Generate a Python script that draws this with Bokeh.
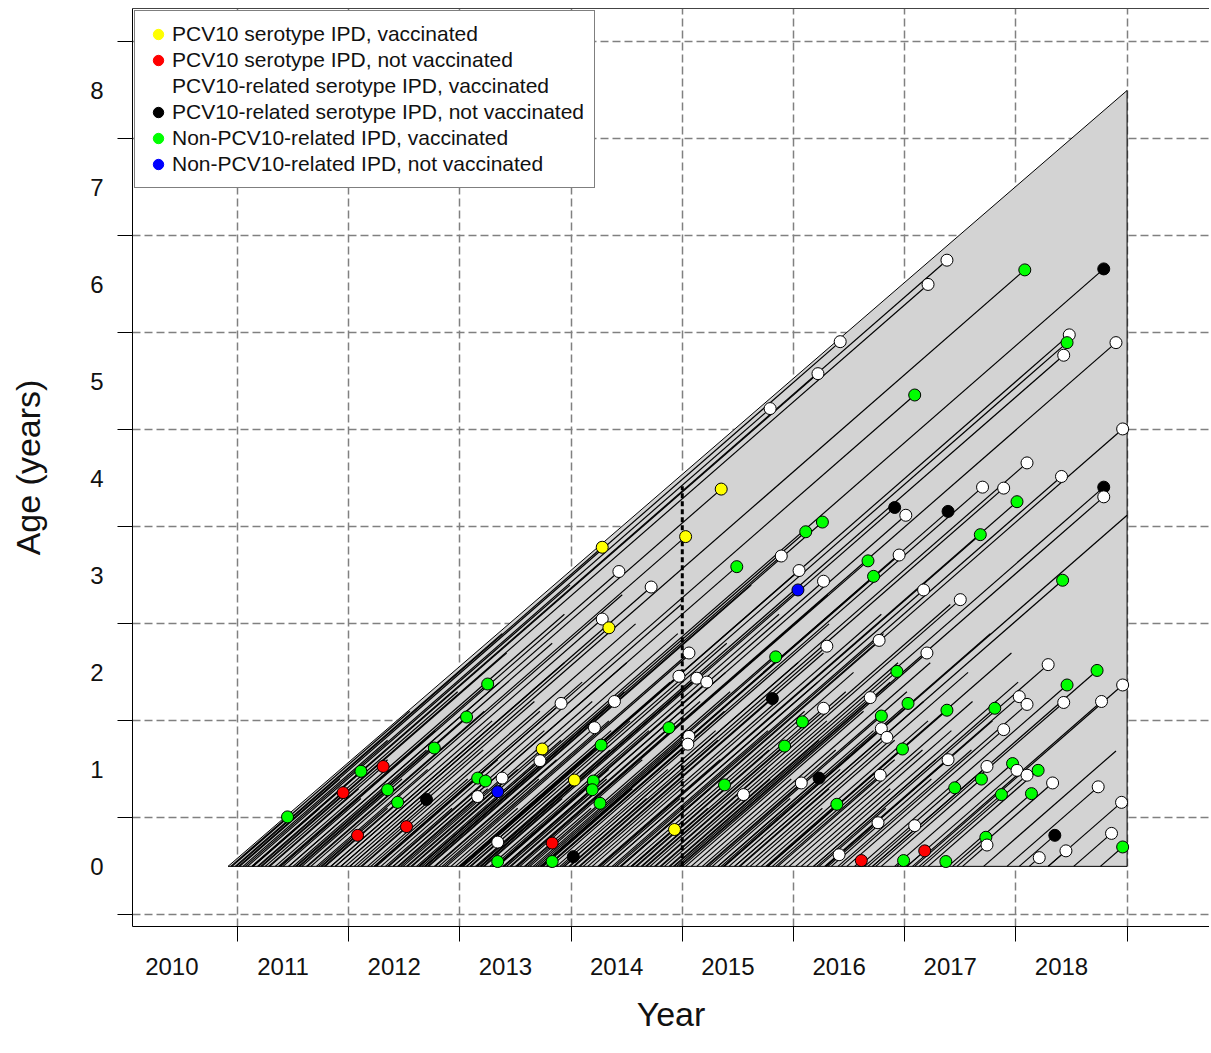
from bokeh.plotting import figure
from bokeh.models import (Range1d, FixedTicker, CustomJSTickFormatter, Legend,
                          LegendItem, ColumnDataSource, LinearAxis)
from bokeh.embed import file_html
from bokeh.resources import INLINE

FONT = "Liberation Sans"

# ---------------- data ----------------
# IPD cases: calendar time of the event (years) and age at event (years)
event_year = [
    2011.45, 2011.95, 2012.11, 2012.31, 2012.35, 2012.44, 2012.70, 2012.08, 2012.52, 2012.77,
    2013.06, 2013.16, 2013.23, 2013.16, 2013.34, 2013.34, 2013.34, 2013.25, 2013.38, 2013.91,
    2014.39, 2014.21, 2014.27, 2014.88, 2013.74, 2013.72, 2015.06, 2015.05, 2014.03, 2014.20,
    2014.19, 2014.26, 2014.93, 2015.38, 2013.83, 2013.83, 2014.02, 2014.28, 2015.03, 2015.35,
    2014.43, 2014.72, 2014.28, 2014.34, 2015.06, 2014.97, 2015.13, 2015.22, 2015.49, 2016.42,
    2016.22, 2015.79, 2017.09, 2015.89, 2016.11, 2016.26, 2016.91, 2017.01, 2016.05, 2016.04,
    2016.27, 2016.67, 2016.72, 2016.95, 2016.30, 2016.77, 2015.84, 2015.81, 2016.69, 2016.93,
    2016.27, 2017.03, 2016.79, 2016.79, 2016.84, 2016.08, 2017.38, 2015.92, 2016.98, 2017.39,
    2015.55, 2016.07, 2016.23, 2016.78, 2017.45, 2016.39, 2016.76, 2017.09, 2016.41, 2016.61,
    2016.99, 2017.18, 2017.37, 2017.38, 2017.21, 2017.39, 2017.17, 2017.50, 2017.20, 2018.08,
    2018.79, 2018.48, 2018.46, 2018.43, 2018.90, 2018.96, 2018.10, 2018.41, 2017.70, 2017.89,
    2018.01, 2018.79, 2018.79, 2017.68, 2018.42, 2018.29, 2018.73, 2018.46, 2018.96, 2018.03,
    2018.10, 2018.43, 2018.77, 2017.81, 2017.89, 2017.74, 2017.97, 2018.01, 2018.10, 2018.20,
    2017.69, 2017.87, 2018.14, 2018.33, 2018.74, 2018.95, 2018.86, 2018.35, 2017.73, 2017.74,
    2018.45, 2018.21, 2018.96,
]
event_age = [
    0.51, 0.76, 0.98, 1.03, 0.79, 0.66, 0.69, 0.32, 0.41, 1.22,
    1.54, 0.91, 0.88, 0.72, 0.77, 0.25, 0.05, 1.88, 0.91, 1.68,
    1.70, 1.43, 1.25, 1.43, 1.21, 1.09, 1.34, 1.26, 0.89, 0.88,
    0.79, 0.65, 0.38, 0.84, 0.24, 0.05, 0.10, 3.29, 3.40, 3.89,
    3.04, 2.88, 2.55, 2.46, 2.20, 1.96, 1.94, 1.90, 3.09, 5.41,
    5.08, 4.72, 4.86, 3.20, 3.45, 3.55, 3.70, 3.62, 3.05, 2.85,
    2.94, 3.15, 2.99, 3.21, 2.27, 2.33, 2.16, 1.73, 1.74, 2.01,
    1.63, 1.68, 1.55, 1.42, 1.33, 1.49, 1.61, 1.24, 1.21, 1.10,
    0.74, 0.86, 0.91, 0.94, 0.81, 0.64, 0.45, 0.42, 0.12, 0.06,
    0.06, 0.16, 0.05, 6.25, 6.00, 3.66, 2.85, 2.75, 2.20, 6.15,
    6.16, 5.48, 5.40, 5.27, 5.40, 4.51, 4.16, 4.02, 3.91, 3.90,
    3.76, 3.91, 3.81, 3.42, 2.95, 2.08, 2.02, 1.87, 1.87, 1.75,
    1.67, 1.69, 1.70, 1.63, 1.41, 1.03, 1.06, 0.99, 0.94, 0.99,
    0.90, 0.74, 0.75, 0.86, 0.82, 0.66, 0.34, 0.32, 0.30, 0.22,
    0.16, 0.09, 0.20,
]
# Y = PCV10 vacc, R = PCV10 not vacc, W = related vacc, K = related not vacc,
# G = non-related vacc, B = non-related not vacc
event_cat = [
    "G", "R", "G", "R", "G", "G", "K", "R", "R", "G",
    "G", "G", "G", "W", "B", "W", "G", "G", "W", "W",
    "W", "W", "G", "G", "Y", "W", "W", "W", "Y", "G",
    "G", "G", "Y", "G", "R", "G", "K", "Y", "Y", "Y",
    "W", "W", "W", "Y", "W", "W", "W", "W", "G", "W",
    "W", "W", "G", "W", "G", "G", "K", "W", "W", "B",
    "W", "G", "G", "W", "W", "W", "G", "K", "W", "G",
    "W", "G", "G", "W", "W", "G", "G", "G", "G", "W",
    "W", "W", "K", "W", "G", "G", "W", "W", "W", "R",
    "G", "R", "G", "W", "W", "K", "W", "W", "W", "G",
    "K", "W", "G", "W", "W", "W", "W", "W", "W", "W",
    "G", "K", "W", "G", "G", "W", "G", "G", "W", "W",
    "W", "W", "W", "G", "W", "W", "G", "W", "W", "G",
    "G", "G", "G", "W", "W", "W", "W", "K", "G", "W",
    "W", "W", "G",
]

# follow-up lines without a case marker: birth time and age at end of line
line_birth = [
    2010.95, 2010.98, 2011.02, 2011.05, 2011.09, 2011.14, 2011.18, 2011.22, 2011.25, 2011.29,
    2011.34, 2011.38, 2011.41, 2011.46, 2011.50, 2011.53, 2011.58, 2011.62, 2011.66, 2011.71,
    2011.75, 2011.79, 2011.84, 2011.88, 2011.93, 2011.97,
    2012.01, 2012.05, 2012.08, 2012.12, 2012.17, 2012.20, 2012.24, 2012.29, 2012.33, 2012.36,
    2012.40, 2012.45, 2012.49, 2012.52, 2012.56, 2012.61, 2012.64, 2012.68, 2012.72, 2012.77,
    2012.81, 2012.84, 2012.88, 2012.92, 2012.96, 2012.99,
    2013.03, 2013.06, 2013.10, 2013.15, 2013.18, 2013.22, 2013.27, 2013.30, 2013.34, 2013.39,
    2013.42, 2013.46, 2013.51, 2013.54, 2013.58, 2013.63, 2013.66, 2013.70, 2013.75, 2013.78,
    2013.82, 2013.87, 2013.90, 2013.94, 2013.98,
    2014.02, 2014.07, 2014.11, 2014.15, 2014.19, 2014.24, 2014.28, 2014.32, 2014.37, 2014.41,
    2014.45, 2014.50, 2014.54, 2014.58, 2014.63, 2014.67, 2014.71, 2014.76, 2014.80, 2014.84,
    2014.89, 2014.93, 2014.97,
    2015.03, 2015.08, 2015.13, 2015.18, 2015.22, 2015.27, 2015.32, 2015.37, 2015.42, 2015.47,
    2015.52, 2015.57, 2015.61, 2015.66, 2015.71, 2015.76, 2015.81, 2015.86, 2015.91, 2015.96,
    2016.02, 2016.07, 2016.12, 2016.18, 2016.23, 2016.29, 2016.34, 2016.40,
    2015.38, 2017.71,
]
line_age = [
    1.6, 2.4, 0.9, 1.3, 2.9, 0.6, 1.8, 2.2, 1.1, 0.8,
    2.6, 1.4, 0.7, 1.9, 1.2, 2.3, 0.9, 1.6, 2.8, 1.0,
    0.6, 1.5, 2.1, 1.3, 0.8, 1.7,
    1.2, 0.7, 2.5, 1.6, 0.9, 1.9, 1.1, 2.7, 0.6, 1.4,
    2.1, 0.8, 1.7, 1.0, 2.4, 1.3, 0.7, 1.8, 2.9, 1.1,
    0.9, 1.5, 2.2, 0.6, 1.4, 1.9,
    1.5, 0.8, 2.3, 1.2, 1.9, 0.7, 2.6, 1.4, 1.0, 2.0,
    0.9, 1.7, 2.8, 1.1, 0.6, 1.8, 2.2, 1.3, 0.8, 1.6,
    2.5, 1.0, 1.4, 2.1, 0.7,
    1.3, 2.2, 0.9, 1.7, 2.6, 1.1, 0.7, 1.9, 1.4, 2.4,
    0.8, 1.6, 2.0, 1.2, 0.6, 1.8, 2.7, 1.0, 1.5, 2.1,
    0.9, 1.3, 1.9,
    1.6, 0.9, 2.1, 1.2, 1.8, 0.7, 1.4, 2.4, 1.0, 1.7,
    0.8, 2.0, 1.3, 0.6, 1.5, 2.2, 1.1, 0.9, 1.7, 1.2,
    1.4, 0.8, 1.9, 1.1, 0.6, 1.5, 0.9, 1.2,
    3.62, 1.19,
]

cat_codes = ["Y", "R", "W", "K", "G", "B"]
cat_labels = [
    "PCV10 serotype IPD, vaccinated",
    "PCV10 serotype IPD, not vaccinated",
    "PCV10-related serotype IPD, vaccinated",
    "PCV10-related serotype IPD, not vaccinated",
    "Non-PCV10-related IPD, vaccinated",
    "Non-PCV10-related IPD, not vaccinated",
]
cat_colors = ["#FFFF00", "#FF0000", "#FFFFFF", "#000000", "#00FF00", "#0000FF"]

# Lexis region: birth cohorts from region_start to region_end
region_start = 2010.915
region_end = 2019.0
region_max_age = 8.0
vaccine_year = 2015.0
vaccine_line_top = 3.92

grid_years = [2011, 2012, 2013, 2014, 2015, 2016, 2017, 2018, 2019]
label_years = [2010, 2011, 2012, 2013, 2014, 2015, 2016, 2017, 2018]
age_labels = [0, 1, 2, 3, 4, 5, 6, 7, 8]
age_grid = [-0.5, 0.5, 1.5, 2.5, 3.5, 4.5, 5.5, 6.5, 7.5, 8.5]

# ---------------- figure ----------------
p = figure(width=1209, height=1048,
           x_range=Range1d(2010.056, 2019.741), y_range=Range1d(-0.62, 8.845),
           output_backend="svg", toolbar_location=None,
           min_border_left=132, min_border_right=0, min_border_top=8,
           min_border_bottom=122)
p.outline_line_color = None
p.background_fill_color = "white"

xax = p.below[0]
yax = p.left[0]

# grid
p.xgrid.ticker = FixedTicker(ticks=grid_years)
p.ygrid.ticker = FixedTicker(ticks=age_grid)
for g in (p.xgrid, p.ygrid):
    g.grid_line_color = "#808080"
    g.grid_line_dash = "8 4"
    g.grid_line_width = 1.5

# x axis: tick marks at year boundaries, labels between them
label_offset = 0.41
xax.ticker = FixedTicker(ticks=[y + label_offset for y in label_years],
                         minor_ticks=grid_years)
xax.formatter = CustomJSTickFormatter(code="return Math.floor(tick).toString();")
xax.major_label_standoff = 16
xax.axis_label = "Year"
xax.axis_label_standoff = 17

# y axis
yax.ticker = FixedTicker(ticks=age_labels, minor_ticks=age_grid)
yax.major_label_standoff = 14
yax.major_label_orientation = "horizontal"
yax.axis_label = "Age (years)"
yax.axis_label_standoff = 40

for ax in (xax, yax):
    ax.major_tick_line_color = None
    ax.major_tick_out = 0
    ax.major_tick_in = 0
    ax.minor_tick_line_color = "black"
    ax.minor_tick_out = 15
    ax.minor_tick_in = 0
    ax.axis_line_color = "black"
    ax.axis_line_width = 1
    ax.major_label_text_font = FONT
    ax.major_label_text_font_size = "24px"
    ax.major_label_text_color = "#111111"
    ax.axis_label_text_font = FONT
    ax.axis_label_text_font_size = "34px"
    ax.axis_label_text_font_style = "normal"
    ax.axis_label_text_color = "#111111"

# top frame line (axis without ticks or labels)
top_axis = LinearAxis(ticker=FixedTicker(ticks=[]), major_label_text_font_size="0px",
                      major_label_standoff=0,
                      major_tick_line_color=None, minor_tick_line_color=None,
                      major_tick_out=0, minor_tick_out=0,
                      axis_line_color="#444444", axis_line_width=1)
p.add_layout(top_axis, "above")

# Lexis triangle
p.patch([region_start, region_end, region_end], [0, 0, region_max_age],
        fill_color="#D3D3D3", line_color="black", line_width=1)

# follow-up lines without a marker
p.segment(x0=line_birth, y0=[0] * len(line_birth),
          x1=[b + a for b, a in zip(line_birth, line_age)], y1=line_age,
          line_color="black", line_width=1.2)

# life lines from birth to event
birth = [y - a for y, a in zip(event_year, event_age)]
src = ColumnDataSource(dict(
    birth=birth, zero=[0] * len(birth), year=event_year, age=event_age,
    color=[cat_colors[cat_codes.index(c)] for c in event_cat]))
p.segment(x0="birth", y0="zero", x1="year", y1="age", source=src,
          line_color="black", line_width=1.2)

# vaccine introduction line
p.segment(x0=[vaccine_year], y0=[0], x1=[vaccine_year], y1=[vaccine_line_top],
          line_color="black", line_width=3, line_dash="5 3")

# case markers
p.scatter(x="year", y="age", source=src, size=12, fill_color="color",
          line_color="black", line_width=1)

# legend (legend-only renderers with a single undrawn point)
items = []
for lab, col in zip(cat_labels, cat_colors):
    r = p.scatter(x=[float("nan")], y=[float("nan")], size=10,
                  fill_color=col, line_color=col)
    items.append(LegendItem(label=lab, renderers=[r]))
legend = Legend(items=items, location="top_left", margin=2, padding=10, spacing=0,
                glyph_width=26, glyph_height=26, label_height=26, label_standoff=1,
                label_text_font=FONT, label_text_font_size="21px",
                label_text_color="#111111",
                border_line_color="black", border_line_width=1,
                background_fill_color="white", background_fill_alpha=1.0)
p.add_layout(legend)

open("out.html", "w").write(file_html(p, INLINE))
